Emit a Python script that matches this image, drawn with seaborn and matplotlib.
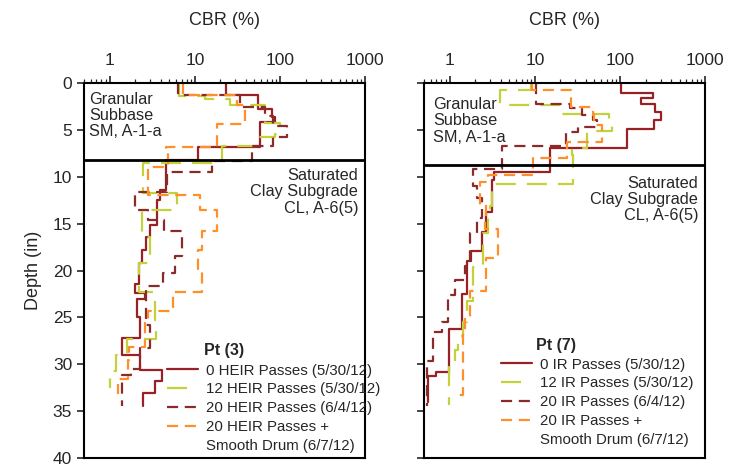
import matplotlib
matplotlib.use("Agg")
import matplotlib.pyplot as plt
from matplotlib.lines import Line2D
import seaborn as sns
import pandas as pd

# --- data: layer top depths (in) and CBR (%) per layer, last row = bottom of profile ---
# Pt (3)
p3_heir0_depth = [0, 1.3, 2.8, 3.6, 4.2, 6.8, 8.2, 11.4, 12.5, 15.1, 16.4, 17.8, 19.2, 21.4, 22.4, 23.0, 25.0, 27.2, 29.0, 30.6, 31.8, 33.1, 34.5]
p3_heir0_cbr = [23, 55, 80, 88, 58, 11, 4.6, 3.9, 3.6, 3.0, 2.7, 2.4, 2.2, 2.0, 2.6, 2.1, 2.3, 1.4, 2.3, 4.1, 3.4, 2.45, 2.45]

p3_heir12_depth = [0, 1.4, 1.7, 2.4, 4.3, 5.4, 5.8, 6.7, 8.5, 11.7, 13.5, 16.4, 19.2, 22.3, 25.3, 27.3, 29.0, 30.7, 32.5]
p3_heir12_cbr = [6.6, 13, 26, 67, 100, 87, 55, 21, 2.45, 6.1, 2.4, 3.0, 2.2, 3.4, 3.5, 1.6, 1.2, 1.0, 1.0]

p3_heir20_depth = [0, 1.3, 2.6, 3.5, 4.6, 5.8, 6.7, 8.3, 9.5, 11.6, 13.5, 14.6, 15.8, 18.4, 20.3, 21.6, 25.8, 28.3, 30.5, 31.1, 34.5]
p3_heir20_cbr = [6.3, 34, 67, 83, 120, 83, 47, 16, 4.7, 1.97, 2.8, 4.4, 7.0, 5.8, 4.2, 2.7, 3.0, 2.25, 1.8, 1.38, 1.38]

p3_sd_depth = [0, 1.3, 2.4, 4.4, 6.8, 7.3, 9.0, 11.9, 13.5, 15.8, 17.8, 20.0, 22.3, 24.3, 25.5, 28.2, 29.5, 31.6, 33.2]
p3_sd_cbr = [7.2, 31, 39, 18, 4.6, 4.8, 2.8, 11.5, 18, 12, 11, 12, 5.5, 2.8, 2.6, 1.7, 1.65, 1.24, 1.24]

# Pt (7)
p7_ir0_depth = [0, 1.1, 1.6, 2.2, 3.1, 4.0, 4.9, 6.9, 9.5, 10.3, 13.8, 15.9, 17.9, 19.0, 22.5, 26.2, 30.8, 31.2, 34.0]
p7_ir0_cbr = [102, 244, 177, 260, 300, 250, 120, 15, 3.3, 3.1, 2.7, 2.4, 1.8, 1.6, 1.38, 0.97, 0.7, 0.55, 0.55]

p7_ir12_depth = [0, 0.7, 2.4, 3.3, 4.2, 5.1, 6.9, 7.7, 10.8, 13.1, 14.4, 16.0, 19.6, 23.3, 25.5, 27.0, 28.5, 29.9, 34.3]
p7_ir12_cbr = [9, 3.9, 21, 74, 80, 41, 27, 28, 3.1, 3.0, 2.8, 2.45, 1.86, 1.58, 1.43, 1.25, 1.15, 0.97, 0.97]

p7_ir20_depth = [0, 2.2, 2.7, 3.4, 4.0, 4.7, 5.2, 6.7, 9.2, 11.0, 12.3, 14.4, 16.0, 19.5, 21.0, 22.6, 25.5, 26.6, 29.7, 34.5]
p7_ir20_cbr = [10.2, 26, 36, 48, 53, 32, 23, 4.1, 1.86, 2.1, 2.4, 2.08, 1.72, 1.5, 1.15, 0.95, 0.81, 0.63, 0.54, 0.54]

p7_sd_depth = [0, 0.7, 2.6, 3.3, 4.5, 6.3, 8.0, 9.8, 10.6, 13.0, 14.3, 15.6, 18.7, 22.2, 25.1, 26.7, 33.3]
p7_sd_cbr = [9.2, 26.5, 48, 50, 61, 24, 9.5, 2.8, 2.25, 2.7, 2.6, 3.7, 2.7, 1.72, 1.5, 1.42, 1.15]

labels3 = ["0 HEIR Passes (5/30/12)", "12 HEIR Passes (5/30/12)", "20 HEIR Passes (6/4/12)", "20 HEIR Passes +"]
labels7 = ["0 IR Passes (5/30/12)", "12 IR Passes (5/30/12)", "20 IR Passes (6/4/12)", "20 IR Passes +"]
extra_label = "Smooth Drum (6/7/12)"
interface_depth = [8.2, 8.7]

colors = ["#9A2024", "#C3D13A", "#8B2A2A", "#FF8F2A"]
styles = ["-", (0, (9, 5)), (0, (5, 3)), (0, (5, 3))]

sns.set_style("ticks")
plt.rcParams["font.family"] = ["Liberation Sans", "DejaVu Sans"]

fig = plt.figure(figsize=(7.4, 4.66), dpi=100)
ax1 = fig.add_axes([0.1135, 0.017, 0.38, 0.805])
ax2 = fig.add_axes([0.573, 0.017, 0.38, 0.805])


def draw_panel(ax, series, labels, pt, depth_line, show_ylabels, gran_xy, sat_y, title_xy, leg_anchor):
    handles = []
    for (dep, cbr), lab, col, ls in zip(series, labels, colors, styles):
        df = pd.DataFrame({"cbr": cbr, "depth": dep})
        sns.lineplot(data=df, x="cbr", y="depth", ax=ax, sort=False, estimator=None,
                     drawstyle="steps-pre", color=col, linestyle=ls, lw=1.6, legend=False)
        handles.append(Line2D([], [], color=col, linestyle=ls, lw=1.6, label=lab))
    handles.append(Line2D([], [], color="none", label=extra_label))

    ax.axhline(depth_line, color="black", lw=2)
    ax.set_xscale("log")
    ax.set_xlim(0.5, 1000)
    ax.set_ylim(40, 0)
    ax.set_xticks([1, 10, 100, 1000])
    ax.set_xticklabels(["1", "10", "100", "1000"])
    ax.xaxis.tick_top()
    ax.xaxis.set_label_position("top")
    ax.set_xlabel("CBR (%)", fontsize=13, labelpad=20)
    ax.set_yticks(range(0, 41, 5))
    ax.tick_params(axis="x", which="major", length=5, width=1.2, labelsize=12.5, pad=6)
    ax.tick_params(axis="x", which="minor", length=3, width=0.9)
    ax.tick_params(axis="y", length=5, width=1.2, labelsize=12.5)
    if show_ylabels:
        ax.set_ylabel("Depth (in)", fontsize=13, labelpad=8)
    else:
        ax.set_yticklabels([])
        ax.set_ylabel("")
    for s in ax.spines.values():
        s.set_visible(True)
        s.set_linewidth(1.5)
        s.set_color("black")

    ax.text(gran_xy[0], gran_xy[1], "Granular\nSubbase\nSM, A-1-a", transform=ax.transAxes,
            ha="left", va="top", fontsize=11.7, linespacing=1.1)
    ax.text(0.975, sat_y, "Saturated\nClay Subgrade\nCL, A-6(5)", transform=ax.transAxes,
            ha="right", va="top", fontsize=11.7, linespacing=1.1)

    ax.text(title_xy[0], title_xy[1], pt, transform=ax.transAxes, ha="left", va="center",
            fontsize=11.5, fontweight="bold")
    ax.legend(handles=handles, loc="upper left", bbox_to_anchor=leg_anchor, frameon=False,
              fontsize=10.8, handlelength=2.05, handletextpad=0.55, labelspacing=0.32,
              borderaxespad=0, borderpad=0)


draw_panel(ax1, [(p3_heir0_depth, p3_heir0_cbr), (p3_heir12_depth, p3_heir12_cbr),
                 (p3_heir20_depth, p3_heir20_cbr), (p3_sd_depth, p3_sd_cbr)],
           labels3, "Pt (3)", interface_depth[0], True, (0.018, 0.977), 0.773,
           (0.427, 0.288), (0.295, 0.252))
draw_panel(ax2, [(p7_ir0_depth, p7_ir0_cbr), (p7_ir12_depth, p7_ir12_cbr),
                 (p7_ir20_depth, p7_ir20_cbr), (p7_sd_depth, p7_sd_cbr)],
           labels7, "Pt (7)", interface_depth[1], False, (0.032, 0.962), 0.752,
           (0.40, 0.30), (0.274, 0.268))

fig.savefig("out.png", dpi=100)
